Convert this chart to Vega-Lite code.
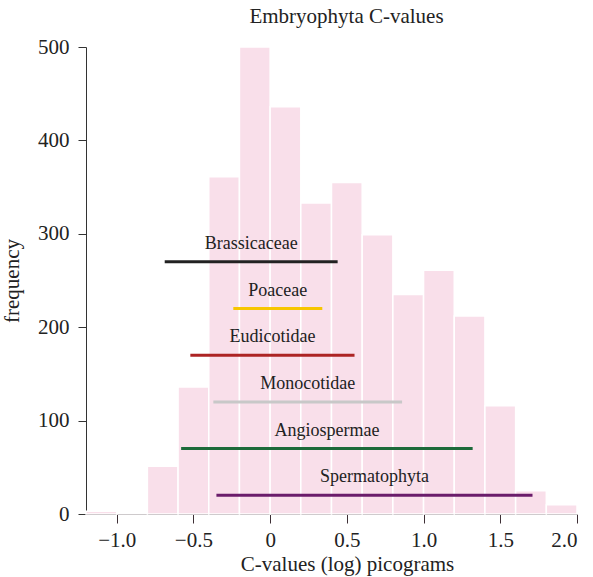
{
  "$schema": "https://vega.github.io/schema/vega-lite/v6.json",
  "autosize": "none",
  "width": 491,
  "height": 467,
  "padding": {"left": 86, "top": 47, "right": 16, "bottom": 63},
  "background": "white",
  "config": {
    "view": {"stroke": null},
    "font": "Liberation Serif",
    "axis": {"grid": false, "labelFont": "Liberation Serif", "titleFont": "Liberation Serif", "labelFontSize": 21, "titleFontSize": 21, "labelColor": "#222", "titleColor": "#222", "titleFontWeight": "normal", "domainColor": "#333", "tickColor": "#333"},
    "title": {"font": "Liberation Serif", "fontSize": 21, "fontWeight": "normal", "color": "#222"}
  },
  "title": {"text": "Embryophyta C-values", "anchor": "middle", "dx": 15, "offset": 9},
  "datasets": {
    "bins": [
      {"start": -1.2, "end": -1.0, "count": 3},
      {"start": -1.0, "end": -0.8, "count": 1},
      {"start": -0.8, "end": -0.6, "count": 51},
      {"start": -0.6, "end": -0.4, "count": 136},
      {"start": -0.4, "end": -0.2, "count": 361},
      {"start": -0.2, "end": 0.0, "count": 500},
      {"start": 0.0, "end": 0.2, "count": 436},
      {"start": 0.2, "end": 0.4, "count": 333},
      {"start": 0.4, "end": 0.6, "count": 355},
      {"start": 0.6, "end": 0.8, "count": 299},
      {"start": 0.8, "end": 1.0, "count": 235},
      {"start": 1.0, "end": 1.2, "count": 261},
      {"start": 1.2, "end": 1.4, "count": 212},
      {"start": 1.4, "end": 1.6, "count": 116},
      {"start": 1.6, "end": 1.8, "count": 25},
      {"start": 1.8, "end": 2.0, "count": 10}
    ],
    "clades": [
      {"clade": "Brassicaceae", "lo": -0.687, "hi": 0.44, "level": 270},
      {"clade": "Poaceae", "lo": -0.24, "hi": 0.34, "level": 220},
      {"clade": "Eudicotidae", "lo": -0.52, "hi": 0.55, "level": 170},
      {"clade": "Monocotidae", "lo": -0.37, "hi": 0.86, "level": 120},
      {"clade": "Angiospermae", "lo": -0.58, "hi": 1.32, "level": 70},
      {"clade": "Spermatophyta", "lo": -0.35, "hi": 1.71, "level": 20}
    ]
  },
  "layer": [
    {
      "data": {"name": "bins"},
      "mark": {"type": "bar", "fill": "#f9dfea", "stroke": "white", "strokeWidth": 1.5, "orient": "vertical"},
      "encoding": {
        "x": {"field": "start", "type": "quantitative", "scale": {"domain": [-1.2, 2.0], "nice": false, "zero": false, "padding": 0},
          "axis": {"values": [-1, -0.5, 0, 0.5, 1, 1.5, 2], "labelExpr": "datum.value == 0 ? '0' : format(datum.value, '.1f')", "tickSize": 9, "labelPadding": 6, "domainColor": "#3d2f35", "tickColor": "#3d2f35", "title": "C-values (log) picograms", "titleX": 261, "titleY": 56, "titleBaseline": "alphabetic", "titleAnchor": "middle"}},
        "x2": {"field": "end"},
        "y": {"field": "count", "type": "quantitative", "scale": {"domain": [0, 500], "nice": false, "padding": 0},
          "axis": {"values": [0, 100, 200, 300, 400, 500], "tickSize": 8, "labelPadding": 9, "title": "frequency", "titleX": -68, "titleBaseline": "alphabetic"}},
        "y2": {"datum": 0}
      }
    },
    {
      "data": {"name": "clades"},
      "mark": {"type": "rule", "strokeWidth": 3},
      "encoding": {
        "x": {"field": "lo", "type": "quantitative"},
        "x2": {"field": "hi"},
        "y": {"field": "level", "type": "quantitative"},
        "color": {"field": "clade", "type": "nominal", "legend": null,
          "scale": {"domain": ["Brassicaceae", "Poaceae", "Eudicotidae", "Monocotidae", "Angiospermae", "Spermatophyta"],
                    "range": ["#222222", "#f7c600", "#ad2424", "#c8c8c8", "#1d6a3a", "#6b1c6b"]}}
      }
    },
    {
      "data": {"name": "clades"},
      "transform": [{"calculate": "(datum.lo + datum.hi) / 2", "as": "mid"}],
      "mark": {"type": "text", "fontSize": 18, "font": "Liberation Serif", "color": "#222", "baseline": "alphabetic", "align": "center", "dy": -13},
      "encoding": {
        "x": {"field": "mid", "type": "quantitative"},
        "y": {"field": "level", "type": "quantitative"},
        "text": {"field": "clade"}
      }
    }
  ]
}
